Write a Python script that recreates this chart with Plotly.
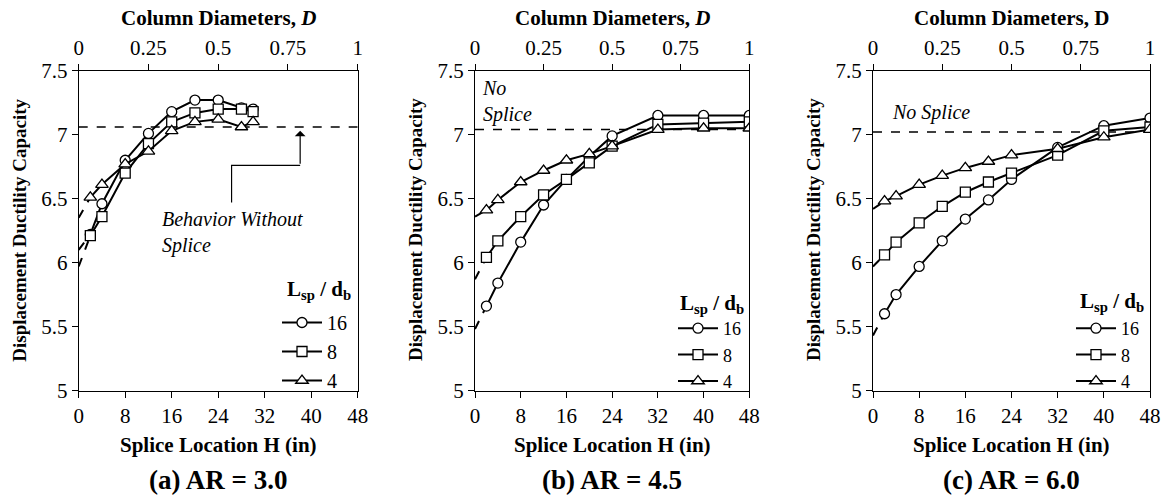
import plotly.graph_objects as go

# splice location H (in) for each panel
H_a = [2, 4, 8, 12, 16, 20, 24, 28, 30]
H_b = [2, 4, 8, 12, 16, 20, 24, 32, 40, 48]
H_c = [2, 4, 8, 12, 16, 20, 24, 32, 40, 48]

# displacement ductility capacity, Lsp/db = 16, 8, 4
a16 = [6.22, 6.46, 6.80, 7.01, 7.18, 7.27, 7.27, 7.21, 7.20]
a8 = [6.21, 6.36, 6.70, 6.93, 7.10, 7.17, 7.20, 7.20, 7.18]
a4 = [6.51, 6.61, 6.77, 6.87, 7.03, 7.10, 7.12, 7.06, 7.10]

b16 = [5.66, 5.84, 6.16, 6.45, 6.65, 6.83, 6.99, 7.15, 7.15, 7.15]
b8 = [6.04, 6.17, 6.36, 6.53, 6.65, 6.78, 6.91, 7.08, 7.09, 7.10]
b4 = [6.41, 6.49, 6.63, 6.72, 6.80, 6.85, 6.91, 7.04, 7.05, 7.05]

c16 = [5.60, 5.75, 5.97, 6.17, 6.34, 6.49, 6.65, 6.90, 7.07, 7.13]
c8 = [6.06, 6.16, 6.31, 6.44, 6.55, 6.63, 6.70, 6.84, 7.03, 7.06]
c4 = [6.48, 6.52, 6.61, 6.68, 6.74, 6.79, 6.84, 6.89, 6.98, 7.04]

# extrapolated value at H = 0 (dashed)
ext_a = [6.10, 5.97, 6.35]
ext_b = [5.48, 5.87, 6.36]
ext_c = [5.43, 5.97, 6.42]

# behavior without splice
no_splice = [7.06, 7.04, 7.02]

ratios = ["16", "8", "4"]
symbols = ["circle", "square", "triangle-up"]
captions = ["(a) AR = 3.0", "(b) AR = 4.5", "(c) AR = 6.0"]
top_titles = ["Column Diameters, <i>D</i>", "Column Diameters, <i>D</i>", "Column Diameters, D"]

FONT = "Liberation Serif"
W, Hpx = 1166, 495

panels = [
    (H_a, [a16, a8, a4], ext_a),
    (H_b, [b16, b8, b4], ext_b),
    (H_c, [c16, c8, c4], ext_c),
]

# pixel layout of plot areas
px_x = [(78.7, 357.7), (475, 749.3), (873, 1150)]
px_y = (70.7, 390.5)
ydom = [1 - px_y[1] / Hpx, 1 - px_y[0] / Hpx]

# legend box (left, top) and legend title (left, centre y), in pixels
legend_pos = [(277, 303), (673, 310), (1071, 310)]
legend_size = [20, 18, 18]
legend_title_pos = [(285, 290), (678, 304), (1078, 302)]

fig = go.Figure()
layout = {}

for i, (H, series, ext) in enumerate(panels):
    n = i + 1
    xa = "x" if n == 1 else f"x{n}"
    ya = "y" if n == 1 else f"y{n}"
    xt = f"x{n + 3}"
    leg = "legend" if n == 1 else f"legend{n}"

    # no-splice dashed line
    fig.add_trace(go.Scatter(
        x=[0, 48], y=[no_splice[i]] * 2, mode="lines",
        line=dict(color="black", width=1.5, dash="dash"),
        xaxis=xa, yaxis=ya, showlegend=False, hoverinfo="skip"))

    for s, vals in enumerate(series):
        # extrapolation to H = 0
        fig.add_trace(go.Scatter(
            x=[0, H[0]], y=[ext[s], vals[0]], mode="lines",
            line=dict(color="black", width=2, dash="dash"),
            xaxis=xa, yaxis=ya, showlegend=False, hoverinfo="skip"))
        fig.add_trace(go.Scatter(
            x=H, y=vals, mode="lines+markers", name=ratios[s],
            line=dict(color="black", width=2),
            marker=dict(symbol=symbols[s], size=10 if s < 2 else 11, color="white",
                        line=dict(color="black", width=1.3)),
            xaxis=xa, yaxis=ya, legend=leg))

    # invisible trace so the top axis is drawn
    fig.add_trace(go.Scatter(
        x=[0, 1], y=[5, 5], mode="markers", marker=dict(opacity=0),
        xaxis=xt, yaxis=ya, showlegend=False, hoverinfo="skip"))

    dom = [px_x[i][0] / W, px_x[i][1] / W]
    tick_font = dict(family=FONT, size=21, color="black")
    layout[f"xaxis{n if n > 1 else ''}"] = dict(
        domain=dom, anchor=ya, range=[0, 48], tickvals=list(range(0, 49, 8)),
        showline=True, linecolor="black", linewidth=1.2, mirror=False,
        ticks="outside", ticklen=6, tickcolor="black", showgrid=False,
        zeroline=False, tickfont=tick_font, automargin=False)
    layout[f"xaxis{n + 3}"] = dict(
        overlaying=xa, anchor=ya, side="top", range=[0, 1],
        tickvals=[0, 0.25, 0.5, 0.75, 1], ticktext=["0", "0.25", "0.5", "0.75", "1"],
        showline=True, linecolor="black", linewidth=1.2,
        ticks="outside", ticklen=6, tickcolor="black", showgrid=False,
        zeroline=False, tickfont=tick_font, automargin=False)
    layout[f"yaxis{n if n > 1 else ''}"] = dict(
        domain=ydom, anchor=xa, range=[5, 7.5],
        tickvals=[5, 5.5, 6, 6.5, 7, 7.5], ticktext=["5", "5.5", "6", "6.5", "7", "7.5"],
        showline=True, linecolor="black", linewidth=1.2, mirror=True,
        ticks="outside", ticklen=6, tickcolor="black", showgrid=False,
        zeroline=False, tickfont=tick_font, automargin=False)

    lx, ly = legend_pos[i]
    layout[leg] = dict(
        x=lx / W, y=1 - ly / Hpx, xanchor="left", yanchor="top",
        bgcolor="rgba(0,0,0,0)", borderwidth=0, tracegroupgap=0, itemwidth=40,
        font=dict(family=FONT, size=legend_size[i], color="black"))

annotations = []
for i in range(3):
    cx = (px_x[i][0] + px_x[i][1]) / 2 / W
    annotations.append(dict(text=f"<b>{top_titles[i]}</b>", x=cx, y=1 - 18 / Hpx,
                            xref="paper", yref="paper", showarrow=False,
                            xanchor="center", yanchor="middle",
                            font=dict(family=FONT, size=21, color="black")))
    annotations.append(dict(text="<b>Splice Location H (in)</b>", x=cx, y=1 - 445 / Hpx,
                            xref="paper", yref="paper", showarrow=False,
                            xanchor="center", yanchor="middle",
                            font=dict(family=FONT, size=21, color="black")))
    annotations.append(dict(text=f"<b>{captions[i]}</b>", x=cx, y=1 - 480 / Hpx,
                            xref="paper", yref="paper", showarrow=False,
                            xanchor="center", yanchor="middle",
                            font=dict(family=FONT, size=27, color="black")))
    annotations.append(dict(text="<b>Displacement Ductility Capacity</b>",
                            x=(px_x[i][0] - 60) / W, y=1 - 230 / Hpx, textangle=-90,
                            xref="paper", yref="paper", showarrow=False,
                            xanchor="center", yanchor="middle",
                            font=dict(family=FONT, size=19, color="black")))
    tx, ty = legend_title_pos[i]
    annotations.append(dict(text="<b>L<sub>sp</sub> / d<sub>b</sub></b>",
                            x=tx / W, y=1 - ty / Hpx, xref="paper", yref="paper",
                            showarrow=False, xanchor="left", yanchor="middle",
                            font=dict(family=FONT, size=21, color="black")))

# panel notes
note_font = dict(family=FONT, size=20, color="black")
annotations.append(dict(text="<i>Behavior Without<br>Splice</i>", x=14, y=6.44,
                        xref="x", yref="y", xanchor="left", yanchor="top", align="left",
                        showarrow=False, font=note_font))
annotations.append(dict(text="<i>No<br>Splice</i>", x=0.8, y=7.47,
                        xref="x2", yref="y2", xanchor="left", yanchor="top", align="left",
                        showarrow=False, font=note_font))
annotations.append(dict(text="<i>No Splice</i>", x=2.9, y=7.17,
                        xref="x3", yref="y3", xanchor="left", yanchor="middle", align="left",
                        showarrow=False, font=note_font))
# arrow pointing to the no-splice line
annotations.append(dict(x=38.1, y=7.03, ax=38.1, ay=6.76, xref="x", yref="y",
                        axref="x", ayref="y", showarrow=True, arrowhead=1,
                        arrowsize=1.5, arrowwidth=1.2, arrowcolor="black", text=""))

shapes = [dict(type="path", path="M 26.3 6.47 L 26.3 6.76 L 38.1 6.76",
               xref="x", yref="y", line=dict(color="black", width=1.2))]

fig.update_layout(
    width=W, height=Hpx, margin=dict(l=0, r=0, t=0, b=0),
    plot_bgcolor="white", paper_bgcolor="white",
    font=dict(family=FONT, color="black"),
    annotations=annotations, shapes=shapes, **layout)

# drop the browser's default body margin so the figure fills the window
fig.write_html("out.html", config={"displayModeBar": False},
               post_script="document.body.style.margin = '0';")
